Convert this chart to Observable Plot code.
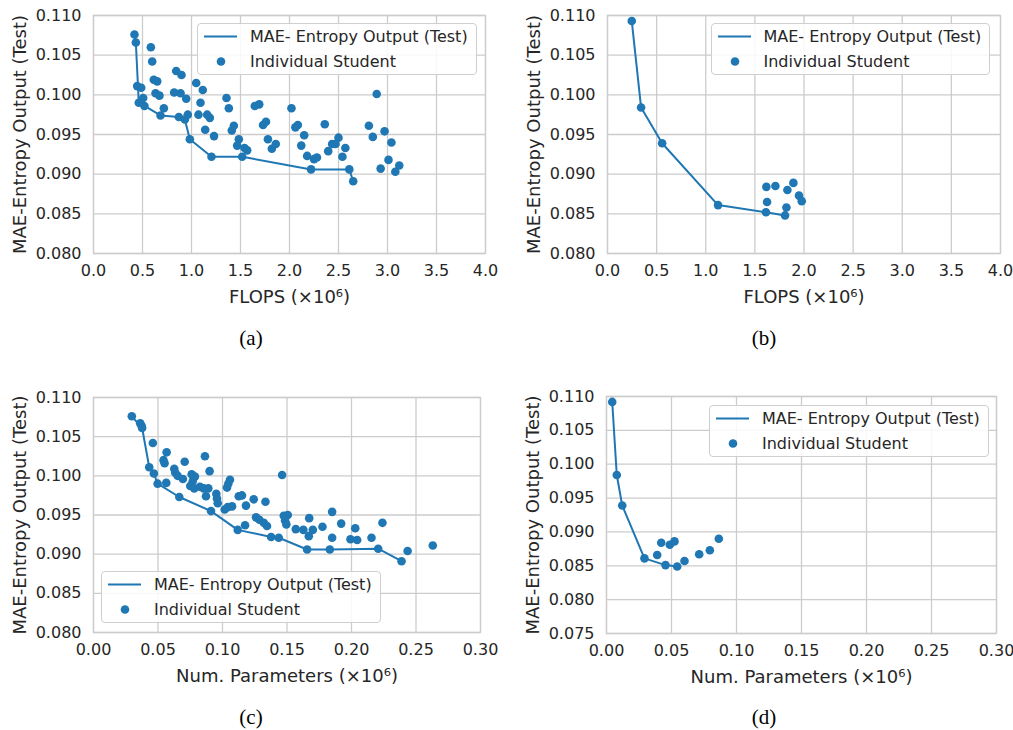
<!DOCTYPE html>
<html>
<head>
<meta charset="utf-8">
<script src="https://cdn.jsdelivr.net/npm/d3@7"></script>
<script src="https://cdn.jsdelivr.net/npm/@observablehq/plot@0.6"></script>
<style>
  html, body { margin: 0; padding: 0; background: #fff; }
  #root { position: relative; width: 1013px; height: 730px; overflow: hidden; font-family: "DejaVu Sans", sans-serif; color: #262626; }
  .panel { position: absolute; }
  .cap { position: absolute; font-family: "Liberation Serif", serif; font-size: 21px; color: #000; transform: translate(-50%, -50%); white-space: nowrap; }
  .leg { position: absolute; border: 1px solid #cfcfcf; border-radius: 4px; background: rgba(255,255,255,0.85); padding: 0 8px 0 0; font-size: 16px; color: #262626; white-space: nowrap; }
  .leg .row { display: flex; align-items: center; height: 25px; }
  .leg svg { flex: none; }
</style>
</head>
<body>
<div id="root"></div>
<script>
// ---------------- data ----------------
// tick values
const flopsTicks = [0, 0.5, 1.0, 1.5, 2.0, 2.5, 3.0, 3.5, 4.0];
const paramTicks = [0, 0.05, 0.10, 0.15, 0.20, 0.25, 0.30];
const maeTicks = [0.080, 0.085, 0.090, 0.095, 0.100, 0.105, 0.110];
const maeTicksD = [0.075, 0.080, 0.085, 0.090, 0.095, 0.100, 0.105, 0.110];

// labels
const yLabel = "MAE-Entropy Output (Test)";
const flopsLabel = "FLOPS (\u00d710\u2076)";
const paramLabel = "Num. Parameters (\u00d710\u2076)";
const lineLegend = "MAE- Entropy Output (Test)";
const dotLegend = "Individual Student";
const captions = ["(a)", "(b)", "(c)", "(d)"];

// (a) FLOPS vs MAE: individual students [flops, mae]
const studentsA = [
  [0.418,0.1076],[0.432,0.1066],[0.585,0.1060],[0.599,0.1042],[0.844,0.1030],[0.898,0.1025],
  [0.615,0.1019],[0.650,0.1017],[0.446,0.1011],[0.487,0.1009],[0.633,0.1002],[0.673,0.0999],
  [0.823,0.1003],[0.888,0.1002],[1.048,0.1015],[1.115,0.1006],[0.946,0.0995],[0.507,0.0996],
  [0.462,0.0990],[0.520,0.0986],[0.718,0.0983],[0.684,0.0974],[0.871,0.0972],[0.932,0.0969],
  [0.962,0.0975],[1.092,0.0990],[1.071,0.0975],[1.160,0.0975],[1.187,0.0971],[1.140,0.0956],
  [1.230,0.0948],[0.983,0.0944],[1.204,0.0922],[1.517,0.0922],[1.357,0.0996],[1.381,0.0983],
  [1.432,0.0961],[1.411,0.0955],[1.483,0.0944],[1.466,0.0936],[1.541,0.0933],[1.568,0.0930],
  [1.646,0.0986],[1.691,0.0988],[1.730,0.0962],[1.760,0.0966],[1.780,0.0944],[1.820,0.0932],
  [1.860,0.0938],[2.020,0.0983],[2.060,0.0959],[2.085,0.0962],[2.150,0.0949],[2.120,0.0936],
  [2.180,0.0923],[2.250,0.0919],[2.280,0.0921],[2.220,0.0906],[2.360,0.0963],[2.395,0.0929],
  [2.435,0.0938],[2.470,0.0938],[2.500,0.0946],[2.570,0.0933],[2.540,0.0922],[2.610,0.0906],
  [2.650,0.0891],[2.890,0.1001],[2.810,0.0961],[2.850,0.0947],[2.970,0.0954],[3.040,0.0940],
  [2.930,0.0907],[3.010,0.0918],[3.120,0.0911],[3.080,0.0903]
];
// (a) frontier line
const frontA = [
  [0.418,0.1076],[0.432,0.1066],[0.462,0.0990],[0.520,0.0986],[0.684,0.0974],[0.871,0.0972],
  [0.932,0.0969],[0.983,0.0944],[1.204,0.0922],[1.517,0.0922],[2.220,0.0906],[2.610,0.0906],
  [2.650,0.0891]
];

// (b) FLOPS vs MAE
const studentsB = [
  [0.247,0.1093],[0.342,0.0984],[0.556,0.0939],[1.125,0.0861],[1.617,0.0884],[1.709,0.0885],
  [1.892,0.0889],[1.831,0.0880],[1.949,0.0873],[1.977,0.0866],[1.624,0.0865],[1.613,0.0852],
  [1.821,0.0858],[1.807,0.0848]
];
const frontB = [
  [0.247,0.1093],[0.342,0.0984],[0.556,0.0939],[1.125,0.0861],[1.613,0.0852],[1.807,0.0848]
];

// (c) Num. parameters vs MAE
const studentsC = [
  [0.0297,0.1076],[0.0362,0.1067],[0.0373,0.1064],[0.0377,0.1061],[0.0460,0.1042],[0.0567,0.1030],
  [0.0543,0.1020],[0.0551,0.1016],[0.0707,0.1018],[0.0864,0.1025],[0.0432,0.1011],[0.0468,0.1003],
  [0.0497,0.0990],[0.0564,0.0991],[0.0626,0.1009],[0.0634,0.1004],[0.0652,0.1000],[0.0693,0.0996],
  [0.0761,0.1002],[0.0786,0.0999],[0.0769,0.0993],[0.0750,0.0987],[0.0781,0.0984],[0.0825,0.0986],
  [0.0854,0.0984],[0.0890,0.0984],[0.0900,0.1006],[0.0665,0.0973],[0.0872,0.0974],[0.0911,0.0955],
  [0.0952,0.0977],[0.0957,0.0971],[0.0963,0.0965],[0.1017,0.0957],[0.1040,0.0960],[0.1074,0.0961],
  [0.1035,0.0985],[0.1045,0.0990],[0.1058,0.0995],[0.1126,0.0974],[0.1151,0.0975],[0.1182,0.0962],
  [0.1242,0.0970],[0.1333,0.0967],[0.1118,0.0931],[0.1175,0.0937],[0.1260,0.0947],[0.1286,0.0944],
  [0.1320,0.0940],[0.1345,0.0936],[0.1462,0.1001],[0.1475,0.0949],[0.1506,0.0950],[0.1485,0.0943],
  [0.1495,0.0938],[0.1377,0.0922],[0.1436,0.0921],[0.1568,0.0932],[0.1627,0.0931],[0.1669,0.0923],
  [0.1672,0.0946],[0.1700,0.0931],[0.1656,0.0906],[0.1832,0.0906],[0.1775,0.0935],[0.1850,0.0954],
  [0.1850,0.0921],[0.1920,0.0939],[0.1992,0.0919],[0.2044,0.0918],[0.2029,0.0933],[0.2155,0.0921],
  [0.2240,0.0940],[0.2207,0.0907],[0.2388,0.0891],[0.2435,0.0904],[0.2630,0.0911]
];
const frontC = [
  [0.0297,0.1076],[0.0377,0.1061],[0.0432,0.1011],[0.0468,0.1003],[0.0497,0.0990],[0.0665,0.0973],
  [0.0911,0.0955],[0.1118,0.0931],[0.1377,0.0922],[0.1436,0.0921],[0.1656,0.0906],[0.1832,0.0906],
  [0.2207,0.0907],[0.2388,0.0891]
];

// (d) Num. parameters vs MAE
const studentsD = [
  [0.0044,0.1092],[0.0079,0.0984],[0.0121,0.0939],[0.0292,0.0861],[0.0454,0.0851],[0.0544,0.0849],
  [0.0390,0.0866],[0.0421,0.0884],[0.0487,0.0881],[0.0523,0.0886],[0.0600,0.0857],[0.0713,0.0867],
  [0.0795,0.0873],[0.0864,0.0890]
];
const frontD = [
  [0.0044,0.1092],[0.0079,0.0984],[0.0121,0.0939],[0.0292,0.0861],[0.0454,0.0851],[0.0544,0.0849]
];

// ---------------- drawing ----------------
const BLUE = "#1f77b4";
const GRID = "#cccccc";
const root = document.getElementById("root");

function panel(cfg) {
  const {students, front, xDomain, xTicks, xFmt, yDomain, yTicks, xLabel,
         left, top, width, height, mL, mR, mT, mB} = cfg;
  const chart = Plot.plot({
    width, height,
    marginLeft: mL, marginRight: mR, marginTop: mT, marginBottom: mB,
    style: {fontFamily: "DejaVu Sans, sans-serif", fontSize: "16px", color: "#262626", background: "transparent", overflow: "visible"},
    x: {domain: xDomain, label: null},
    y: {domain: yDomain, label: null},
    marks: [
      Plot.gridX(xTicks, {stroke: GRID, strokeOpacity: 1, strokeWidth: 1.3}),
      Plot.gridY(yTicks, {stroke: GRID, strokeOpacity: 1, strokeWidth: 1.3}),
      Plot.frame({stroke: GRID, strokeWidth: 1.3}),
      Plot.axisX(xTicks, {tickSize: 0, tickPadding: 11, tickFormat: xFmt, label: null, fontSize: 16, fill: "#262626"}),
      Plot.axisY(yTicks, {tickSize: 0, tickPadding: 12, tickFormat: d3.format(".3f"), label: null, fontSize: 16, fill: "#262626"}),
      Plot.line(front, {x: d => d[0], y: d => d[1], stroke: BLUE, strokeWidth: 2}),
      Plot.dot(students, {x: d => d[0], y: d => d[1], r: 4.3, fill: BLUE, stroke: "none"}),
      Plot.text([xLabel], {text: d => d, frameAnchor: "bottom", dy: 44, textAnchor: "middle", lineAnchor: "middle", fontSize: 18, fill: "#262626"}),
      Plot.text([yLabel], {text: d => d, frameAnchor: "left", dx: -73, rotate: -90, textAnchor: "middle", lineAnchor: "middle", fontSize: 18, fill: "#262626"})
    ]
  });
  const div = document.createElement("div");
  div.className = "panel";
  div.style.left = left + "px";
  div.style.top = top + "px";
  div.appendChild(chart);
  root.appendChild(div);
}

function legend(left, top) {
  const div = document.createElement("div");
  div.className = "leg";
  div.style.left = left + "px";
  div.style.top = top + "px";
  div.innerHTML =
    `<div class="row"><svg width="52" height="25"><line x1="6" x2="39" y1="12.5" y2="12.5" stroke="${BLUE}" stroke-width="2"/></svg><span>${lineLegend}</span></div>` +
    `<div class="row"><svg width="52" height="25"><circle cx="23" cy="12.5" r="4.3" fill="${BLUE}"/></svg><span>${dotLegend}</span></div>`;
  root.appendChild(div);
}

function caption(text, x, y) {
  const d = document.createElement("div");
  d.className = "cap";
  d.textContent = text;
  d.style.left = x + "px";
  d.style.top = y + "px";
  root.appendChild(d);
}

const fmt1 = d3.format(".1f"), fmt2 = d3.format(".2f");

panel({students: studentsA, front: frontA, xDomain: [0, 4], xTicks: flopsTicks, xFmt: fmt1,
       yDomain: [0.080, 0.110], yTicks: maeTicks, xLabel: flopsLabel,
       left: 0, top: 0, width: 500, height: 320, mL: 93, mR: 15, mT: 15, mB: 67});
panel({students: studentsB, front: frontB, xDomain: [0, 4], xTicks: flopsTicks, xFmt: fmt1,
       yDomain: [0.080, 0.110], yTicks: maeTicks, xLabel: flopsLabel,
       left: 513, top: 0, width: 500, height: 320, mL: 94, mR: 13, mT: 15, mB: 67});
panel({students: studentsC, front: frontC, xDomain: [0, 0.30], xTicks: paramTicks, xFmt: fmt2,
       yDomain: [0.080, 0.110], yTicks: maeTicks, xLabel: paramLabel,
       left: 0, top: 380, width: 500, height: 330, mL: 93, mR: 20, mT: 17, mB: 78});
panel({students: studentsD, front: frontD, xDomain: [0, 0.30], xTicks: paramTicks, xFmt: fmt2,
       yDomain: [0.075, 0.110], yTicks: maeTicksD, xLabel: paramLabel,
       left: 513, top: 380, width: 500, height: 330, mL: 93, mR: 17, mT: 16, mB: 77});

legend(197, 22.5);
legend(710.5, 23);
legend(101, 571);
legend(709, 404.5);

caption(captions[0], 251, 338);
caption(captions[1], 764, 338);
caption(captions[2], 251, 717);
caption(captions[3], 764, 717);
</script>
</body>
</html>
